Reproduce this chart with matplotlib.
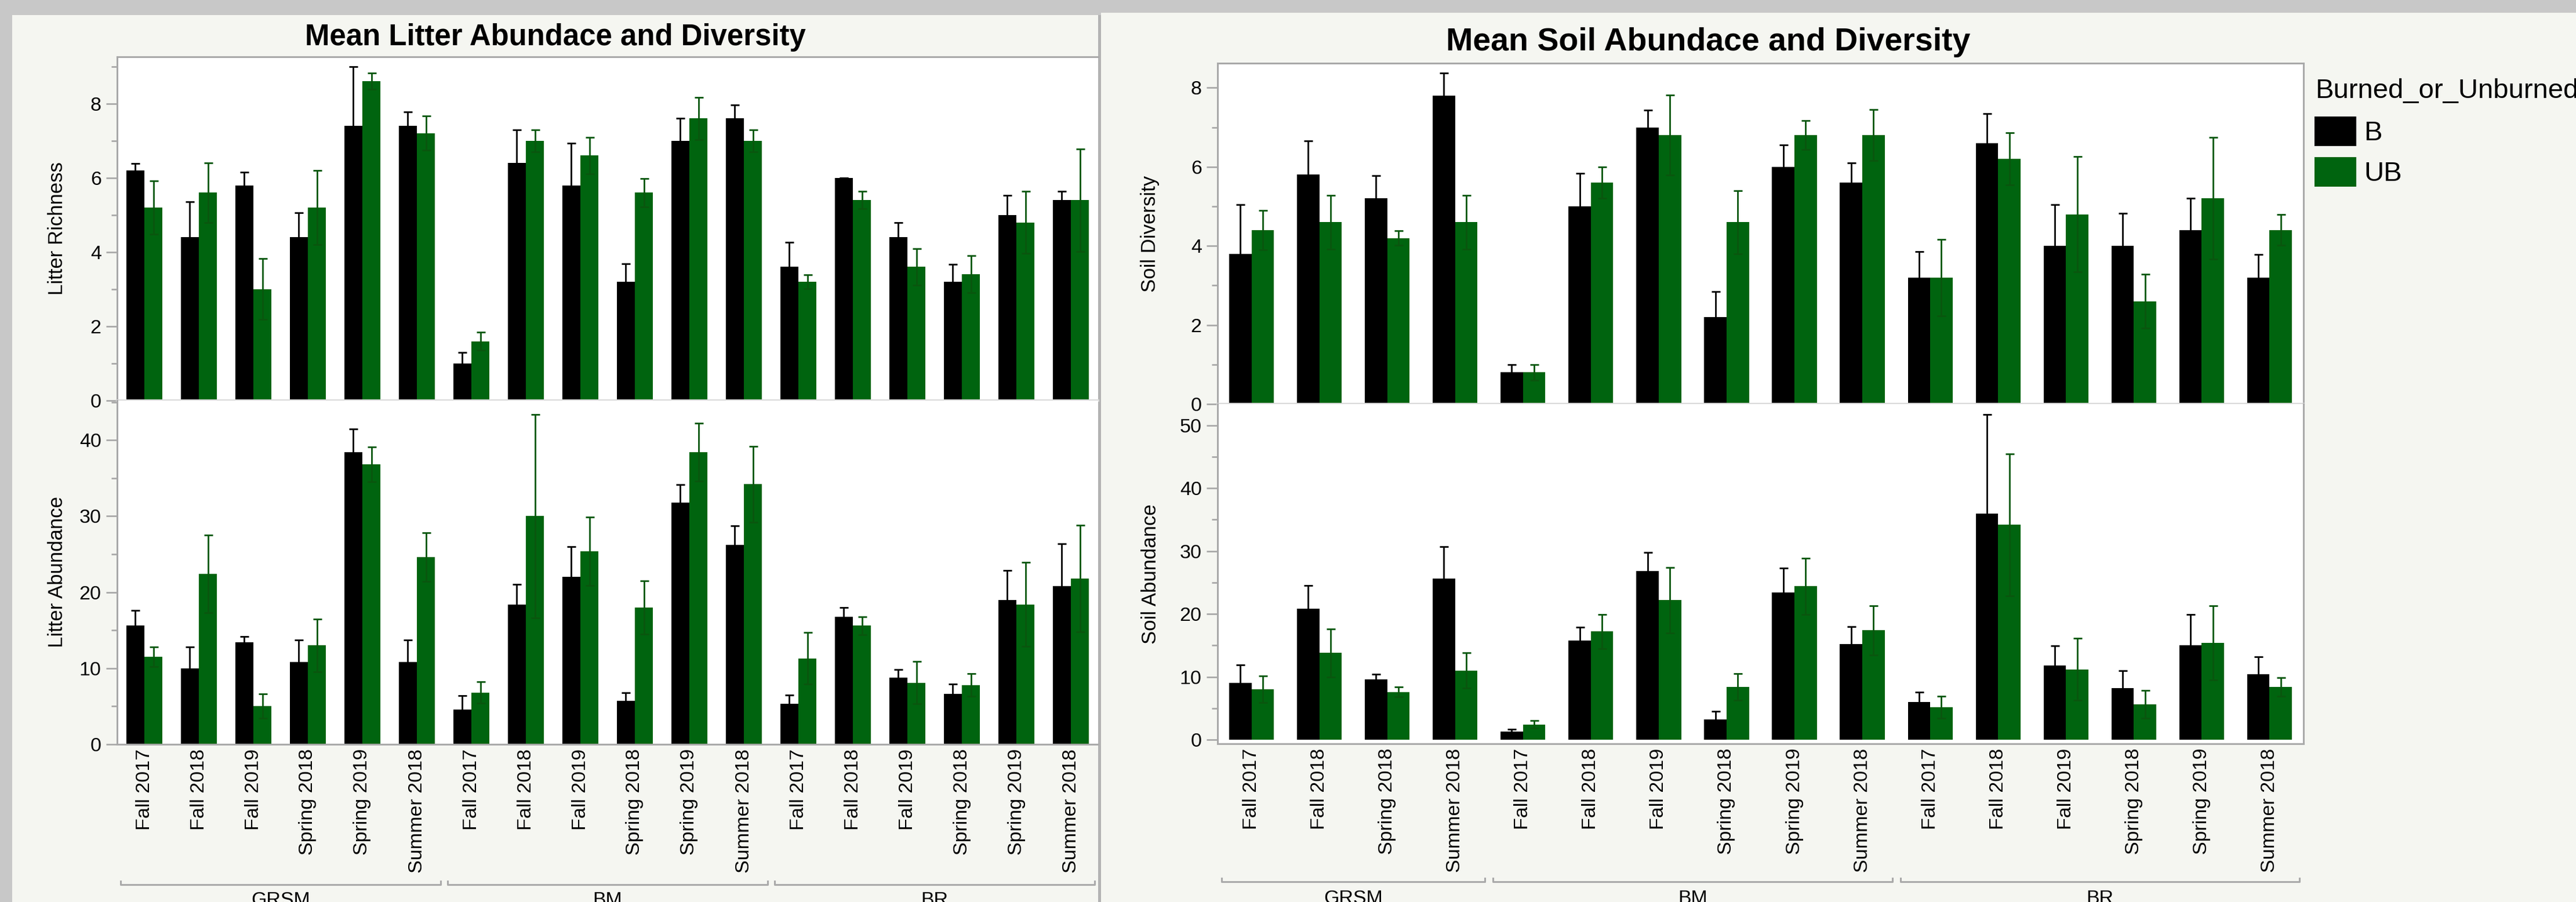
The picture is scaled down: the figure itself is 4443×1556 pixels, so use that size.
import matplotlib
matplotlib.use("Agg")
import matplotlib.pyplot as plt
import matplotlib.transforms as mtransforms
from matplotlib.patches import Rectangle
from matplotlib.lines import Line2D
import numpy as np

# ---------------- data ----------------
seasons6 = ["Fall 2017", "Fall 2018", "Fall 2019", "Spring 2018", "Spring 2019", "Summer 2018"]
litter_labels = seasons6 * 3
litter_groups = [("GRSM", 6), ("BM", 6), ("BR", 6)]

soil_labels = ["Fall 2017", "Fall 2018", "Spring 2018", "Summer 2018"] + seasons6 + seasons6
soil_groups = [("GRSM", 4), ("BM", 6), ("BR", 6)]

# Litter richness (mean, standard error)
litter_rich_b = [6.2, 4.4, 5.8, 4.4, 7.4, 7.4, 1.0, 6.4, 5.8, 3.2, 7.0, 7.6, 3.6, 6.0, 4.4, 3.2, 5.0, 5.4]
litter_rich_b_err = [0.18, 0.96, 0.35, 0.66, 1.6, 0.38, 0.3, 0.9, 1.13, 0.48, 0.6, 0.37, 0.66, 0.0, 0.4, 0.47, 0.53, 0.23]
litter_rich_ub = [5.2, 5.6, 3.0, 5.2, 8.6, 7.2, 1.6, 7.0, 6.6, 5.6, 7.6, 7.0, 3.2, 5.4, 3.6, 3.4, 4.8, 5.4]
litter_rich_ub_err = [0.72, 0.8, 0.82, 1.0, 0.22, 0.46, 0.24, 0.3, 0.49, 0.38, 0.57, 0.3, 0.19, 0.23, 0.49, 0.5, 0.84, 1.38]

# Litter abundance
litter_abund_b = [15.6, 10.0, 13.4, 10.8, 38.4, 10.8, 4.6, 18.4, 22.0, 5.7, 31.8, 26.2, 5.3, 16.8, 8.8, 6.6, 19.0, 20.8]
litter_abund_b_err = [2.0, 2.8, 0.8, 2.9, 3.1, 2.9, 1.8, 2.6, 4.0, 1.05, 2.35, 2.5, 1.2, 1.2, 1.0, 1.3, 3.9, 5.6]
litter_abund_ub = [11.5, 22.4, 5.0, 13.0, 36.8, 24.6, 6.8, 30.0, 25.4, 18.0, 38.4, 34.2, 11.3, 15.6, 8.1, 7.8, 18.4, 21.8]
litter_abund_ub_err = [1.3, 5.1, 1.6, 3.5, 2.3, 3.2, 1.4, 13.4, 4.5, 3.5, 3.8, 5.0, 3.4, 1.2, 2.8, 1.5, 5.5, 7.0]

# Soil diversity
soil_div_b = [3.8, 5.8, 5.2, 7.8, 0.8, 5.0, 7.0, 2.2, 6.0, 5.6, 3.2, 6.6, 4.0, 4.0, 4.4, 3.2]
soil_div_b_err = [1.24, 0.85, 0.58, 0.57, 0.2, 0.83, 0.43, 0.65, 0.55, 0.5, 0.66, 0.74, 1.05, 0.83, 0.81, 0.58]
soil_div_ub = [4.4, 4.6, 4.2, 4.6, 0.8, 5.6, 6.8, 4.6, 6.8, 6.8, 3.2, 6.2, 4.8, 2.6, 5.2, 4.4]
soil_div_ub_err = [0.5, 0.68, 0.19, 0.68, 0.2, 0.4, 1.01, 0.8, 0.37, 0.65, 0.97, 0.66, 1.46, 0.68, 1.54, 0.39]

# Soil abundance
soil_abund_b = [9.0, 20.8, 9.6, 25.6, 1.26, 15.8, 26.8, 3.2, 23.4, 15.2, 6.0, 36.0, 11.8, 8.2, 15.0, 10.4]
soil_abund_b_err = [2.85, 3.7, 0.8, 5.1, 0.4, 2.1, 3.0, 1.3, 3.9, 2.8, 1.55, 15.7, 3.1, 2.8, 4.9, 2.8]
soil_abund_ub = [8.0, 13.8, 7.6, 11.0, 2.4, 17.2, 22.2, 8.4, 24.4, 17.4, 5.2, 34.2, 11.2, 5.6, 15.4, 8.4]
soil_abund_ub_err = [2.1, 3.8, 0.8, 2.8, 0.6, 2.7, 5.2, 2.1, 4.5, 3.9, 1.75, 11.3, 4.9, 2.2, 5.9, 1.5]

legend_title = "Burned_or_Unburned?"
legend_names = ["B", "UB"]

# ---------------- style ----------------
W, H, DPI = 4443, 1556, 100
plt.rcParams["font.family"] = ["Liberation Sans", "DejaVu Sans"]

BG = "#c8c8c8"
PANEL = "#f5f6f1"
FRAME = "#a9a9a9"
ZERO = "#d9d9d9"
BLACK = "#000000"
GREEN = "#00640f"
EGREEN = "#0a560e"
TICK_FS = 24.5

fig = plt.figure(figsize=(W / DPI, H / DPI), dpi=DPI, facecolor=BG)


def frac_rect(x0, y0, x1, y1):
    return [x0 / W, 1 - y1 / H, (x1 - x0) / W, (y1 - y0) / H]


def fig_rect(x0, y0, x1, y1, color, z=-5):
    fig.patches.append(Rectangle((x0 / W, 1 - y1 / H), (x1 - x0) / W, (y1 - y0) / H,
                                 transform=fig.transFigure, facecolor=color,
                                 edgecolor="none", zorder=z))


# window panels (drawn beneath the axes)
fig_rect(21, 26, 1894, H, PANEL)
fig_rect(1894, 26, 1899, H, "#b3b3b3")
fig_rect(1899, 22, W, H, PANEL)


def draw_pairs(ax, b, b_err, ub, ub_err):
    x = np.arange(len(b))
    w = 0.33
    ax.bar(x - w / 2, b, w, color=BLACK, zorder=2)
    ax.bar(x + w / 2, ub, w, color=GREEN, zorder=2)
    ax.errorbar(x - w / 2, b, yerr=b_err, fmt="none", ecolor=BLACK, elinewidth=2.0,
                capsize=5.4, capthick=2.0, zorder=3)
    ax.errorbar(x + w / 2, ub, yerr=ub_err, fmt="none", ecolor=EGREEN, elinewidth=2.0,
                capsize=5.4, capthick=2.0, zorder=3)


def style_axis(ax, n, ylim, major, minor, top, bottom_light, right):
    ax.set_facecolor("white")
    ax.set_xlim(-0.5, n - 0.5)
    ax.set_ylim(*ylim)
    ax.set_yticks(major)
    ax.set_yticklabels([str(v) for v in major])
    ax.set_yticks(minor, minor=True)
    ax.tick_params(axis="y", which="major", length=13.7, width=2.0, color=FRAME,
                   labelsize=TICK_FS, pad=6)
    ax.tick_params(axis="y", which="minor", length=7, width=2.0, color=FRAME)
    ax.tick_params(axis="x", length=0)
    for side in ("left", "top", "right", "bottom"):
        ax.spines[side].set_linewidth(2.2)
        ax.spines[side].set_color(FRAME)
    ax.spines["top"].set_visible(top)
    ax.spines["right"].set_visible(right)
    if bottom_light:
        ax.spines["bottom"].set_color(ZERO)
        ax.spines["bottom"].set_linewidth(3)


def group_brackets(ax, groups, y_line, y_text):
    trans = mtransforms.blended_transform_factory(ax.transData, fig.transFigure)
    start = 0
    yl = 1 - y_line / H
    ye = 1 - (y_line - 6) / H
    for name, size in groups:
        x0 = start - 0.5 + 0.06
        x1 = start + size - 0.5 - 0.06
        line = Line2D([x0, x0, x1, x1], [ye, yl, yl, ye], transform=trans,
                      color=FRAME, lw=2.2, clip_on=False)
        fig.add_artist(line)
        fig.text((start + size / 2 - 0.5), 1 - y_text / H, name, transform=trans,
                 ha="center", va="top", fontsize=TICK_FS)
        start += size


# ---------------- litter chart ----------------
n_l = len(litter_labels)
ax_lr = fig.add_axes(frac_rect(202, 98, 1894, 691))
draw_pairs(ax_lr, litter_rich_b, litter_rich_b_err, litter_rich_ub, litter_rich_ub_err)
style_axis(ax_lr, n_l, (0, 9.26), [0, 2, 4, 6, 8], [1, 3, 5, 7, 9], True, True, False)
ax_lr.set_xticks([])

ax_la = fig.add_axes(frac_rect(202, 691, 1894, 1284))
draw_pairs(ax_la, litter_abund_b, litter_abund_b_err, litter_abund_ub, litter_abund_ub_err)
style_axis(ax_la, n_l, (0, 45.2), [0, 10, 20, 30, 40], [5, 15, 25, 35, 45], False, False, False)
ax_la.set_xticks(np.arange(n_l))
ax_la.set_xticklabels(litter_labels, rotation=90, fontsize=TICK_FS)
ax_la.tick_params(axis="x", pad=5.5)
group_brackets(ax_la, litter_groups, 1526, 1538)

fig.text(98 / W, 1 - 394 / H, "Litter Richness", rotation=90, ha="center", va="center", fontsize=25)
fig.text(98 / W, 1 - 987 / H, "Litter Abundance", rotation=90, ha="center", va="center", fontsize=25)
fig.text(958 / W, 1 - 78 / H, "Mean Litter Abundace and Diversity", ha="center", va="baseline",
         fontsize=36.6, fontweight="bold")

# ---------------- soil chart ----------------
n_s = len(soil_labels)
ax_sd = fig.add_axes(frac_rect(2100, 109, 3973, 697))
draw_pairs(ax_sd, soil_div_b, soil_div_b_err, soil_div_ub, soil_div_ub_err)
style_axis(ax_sd, n_s, (0, 8.62), [0, 2, 4, 6, 8], [1, 3, 5, 7], True, True, True)
ax_sd.set_xticks([])

ax_sa = fig.add_axes(frac_rect(2100, 697, 3973, 1283))
draw_pairs(ax_sa, soil_abund_b, soil_abund_b_err, soil_abund_ub, soil_abund_ub_err)
style_axis(ax_sa, n_s, (-0.65, 53.4), [0, 10, 20, 30, 40, 50], [5, 15, 25, 35, 45], False, False, True)
ax_sa.set_xticks(np.arange(n_s))
ax_sa.set_xticklabels(soil_labels, rotation=90, fontsize=TICK_FS)
ax_sa.tick_params(axis="x", pad=5.5)
group_brackets(ax_sa, soil_groups, 1521, 1535)

fig.text(1984 / W, 1 - 403 / H, "Soil Diversity", rotation=90, ha="center", va="center", fontsize=25)
fig.text(1984 / W, 1 - 990 / H, "Soil Abundance", rotation=90, ha="center", va="center", fontsize=25)
fig.text(2946 / W, 1 - 87 / H, "Mean Soil Abundace and Diversity", ha="center", va="baseline",
         fontsize=40, fontweight="bold")

# ---------------- legend ----------------
fig.text(3993 / W, 1 - 169 / H, legend_title, ha="left", va="baseline", fontsize=34)
for i, (name, col) in enumerate(zip(legend_names, [BLACK, GREEN])):
    y0 = 201 + i * 70
    fig_rect(3992, y0, 4064, y0 + 51, col, z=2)
    fig.text(4077 / W, 1 - (y0 + 41) / H, name, ha="left", va="baseline", fontsize=34)

fig.savefig("out.png", dpi=DPI, facecolor=BG)
